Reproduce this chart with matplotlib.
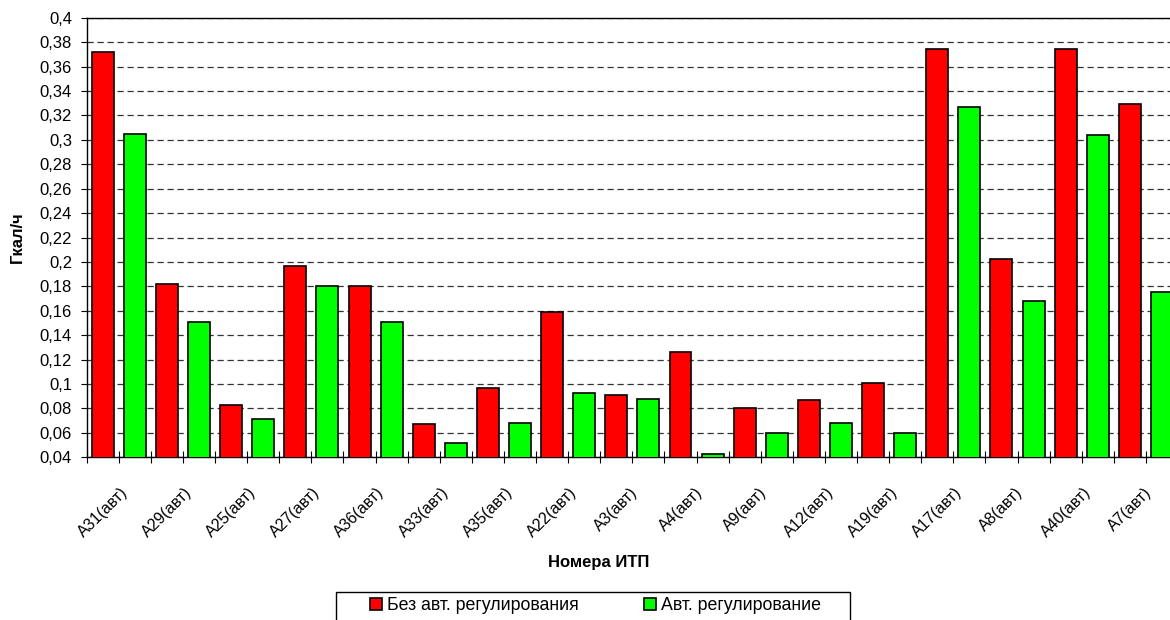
import matplotlib.pyplot as plt
from matplotlib.patches import Patch, Rectangle
from matplotlib.ticker import FuncFormatter
import numpy as np

plt.rcParams['font.family'] = ['Liberation Sans', 'DejaVu Sans']

# данные по ИТП (Гкал/ч)
itp = ['А31(авт)', 'А29(авт)', 'А25(авт)', 'А27(авт)', 'А36(авт)', 'А33(авт)',
       'А35(авт)', 'А22(авт)', 'А3(авт)', 'А4(авт)', 'А9(авт)', 'А12(авт)',
       'А19(авт)', 'А17(авт)', 'А8(авт)', 'А40(авт)', 'А7(авт)']
bez_reg = [0.372, 0.182, 0.083, 0.197, 0.180, 0.067, 0.097, 0.159, 0.091,
           0.126, 0.080, 0.087, 0.101, 0.374, 0.202, 0.374, 0.329]
avt_reg = [0.305, 0.151, 0.071, 0.180, 0.151, 0.052, 0.068, 0.093, 0.0875,
           0.043, 0.060, 0.068, 0.060, 0.327, 0.168, 0.304, 0.175]
y_ticks = np.arange(0.04, 0.401, 0.02)

W, H = 1170, 620
fig = plt.figure(figsize=(W / 100, H / 100), dpi=100)
left, right, top, bottom = 86.7, 1178, 17.7, 457.3
ax = fig.add_axes([left / W, 1 - bottom / H, (right - left) / W, (bottom - top) / H])

n = len(itp)
x_red = np.arange(n) * 2
x_green = x_red + 1
w = 0.685
ax.bar(x_red, bez_reg, width=w, bottom=0, color='#ff0000', edgecolor='black', linewidth=1.2, zorder=3)
ax.bar(x_green, avt_reg, width=w, bottom=0, color='#00ff00', edgecolor='black', linewidth=1.2, zorder=3)

ax.set_xlim(-0.5, 2 * n - 0.5)
ax.set_ylim(0.04, 0.4)

# подписи оси X: по центру красного столбца, засечки на границах категорий
ax.set_xticks(x_red)
ax.set_xticklabels(itp, rotation=45, ha='center', va='top', fontsize=11.5)
ax.tick_params(axis='x', which='major', length=0, pad=19.5)
ax.set_xticks(np.arange(2 * n + 1) - 0.5, minor=True)
ax.tick_params(axis='x', which='minor', direction='inout', length=8, width=0.8)

ax.set_yticks(y_ticks)
ax.yaxis.set_major_formatter(FuncFormatter(lambda v, p: f"{round(v, 2):g}".replace('.', ',')))
ax.tick_params(axis='y', direction='out', length=4, width=0.8, labelsize=12, pad=6.5)

ax.yaxis.grid(True, linestyle=(0, (5, 3)), color='#333333', linewidth=0.9)
ax.set_axisbelow(True)
ax.spines['right'].set_visible(False)
for s in ['left', 'bottom', 'top']:
    ax.spines[s].set_linewidth(1.0)

ax.set_ylabel('Гкал/ч', fontsize=12, fontweight='bold')
ax.yaxis.set_label_coords((25 - left) / (right - left), 0.5)
fig.text(599 / W, 1 - 563 / H, 'Номера ИТП', ha='center', va='center', fontsize=12, fontweight='bold')

# легенда
fig.patches.append(Rectangle((336 / W, -0.05), 514 / W, (H - 592) / H + 0.05, fill=False,
                             edgecolor='black', linewidth=1.0, transform=fig.transFigure))
handles = [Patch(facecolor='#ff0000', edgecolor='black', linewidth=1.2),
           Patch(facecolor='#00ff00', edgecolor='black', linewidth=1.2)]
fig.legend(handles, ['Без авт. регулирования', 'Авт. регулирование'], loc='center left',
           bbox_to_anchor=(370 / W, 1 - 606 / H), ncol=2, frameon=False, fontsize=12.8,
           handlelength=0.68, handleheight=0.68, handletextpad=0.25, columnspacing=3.7,
           borderpad=0, borderaxespad=0)

fig.savefig('out.png', dpi=100)
